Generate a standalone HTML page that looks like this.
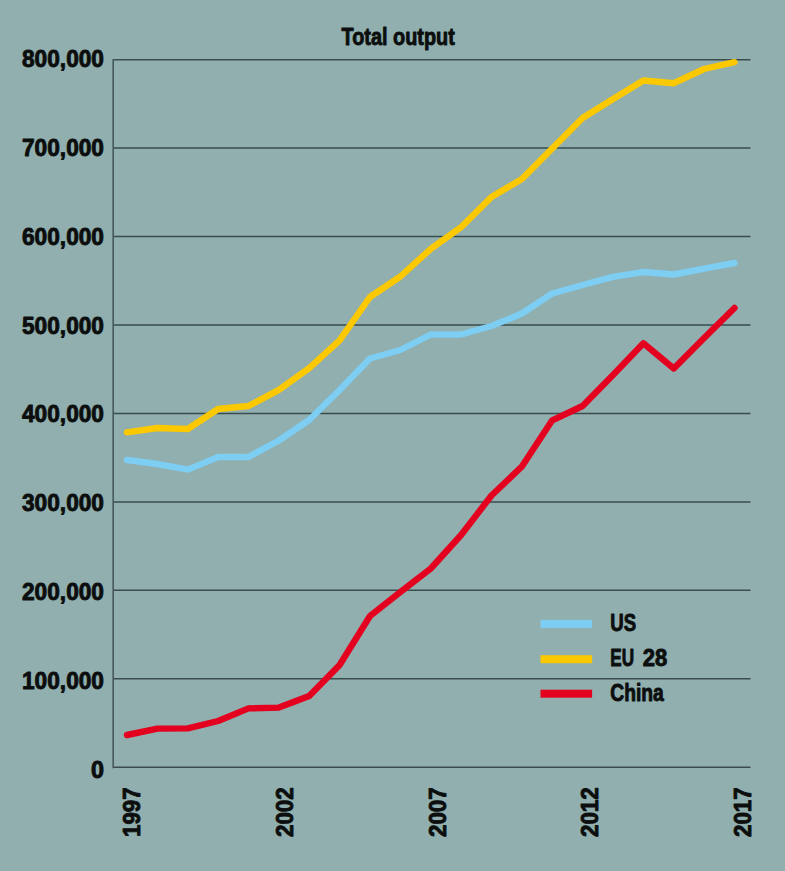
<!DOCTYPE html>
<html><head><meta charset="utf-8"><style>
html,body{margin:0;padding:0;background:#90afae;}
svg{display:block;}
text{font-family:"Liberation Sans",sans-serif;font-weight:bold;fill:#0c0e0e;stroke:#0c0e0e;stroke-width:0.9px;stroke-linejoin:round;}
</style></head><body>
<svg width="785" height="871" viewBox="0 0 785 871">
<rect width="785" height="871" fill="#90afae"/>
<line x1="113" y1="59.7" x2="750.5" y2="59.7" stroke="#3a4c4c" stroke-width="1.5"/>
<line x1="113" y1="148.1" x2="750.5" y2="148.1" stroke="#3a4c4c" stroke-width="1.5"/>
<line x1="113" y1="236.6" x2="750.5" y2="236.6" stroke="#3a4c4c" stroke-width="1.5"/>
<line x1="113" y1="325.0" x2="750.5" y2="325.0" stroke="#3a4c4c" stroke-width="1.5"/>
<line x1="113" y1="413.5" x2="750.5" y2="413.5" stroke="#3a4c4c" stroke-width="1.5"/>
<line x1="113" y1="501.9" x2="750.5" y2="501.9" stroke="#3a4c4c" stroke-width="1.5"/>
<line x1="113" y1="590.3" x2="750.5" y2="590.3" stroke="#3a4c4c" stroke-width="1.5"/>
<line x1="113" y1="678.8" x2="750.5" y2="678.8" stroke="#3a4c4c" stroke-width="1.5"/>
<line x1="113" y1="767.2" x2="750.5" y2="767.2" stroke="#3a4c4c" stroke-width="1.5"/>
<line x1="113.2" y1="59" x2="113.2" y2="768.3" stroke="#46585a" stroke-width="1.6"/>
<text x="104" y="67.0" text-anchor="end" font-size="23.4" textLength="82" lengthAdjust="spacingAndGlyphs">800,000</text>
<text x="104" y="155.9" text-anchor="end" font-size="23.4" textLength="82" lengthAdjust="spacingAndGlyphs">700,000</text>
<text x="104" y="244.7" text-anchor="end" font-size="23.4" textLength="82" lengthAdjust="spacingAndGlyphs">600,000</text>
<text x="104" y="333.6" text-anchor="end" font-size="23.4" textLength="82" lengthAdjust="spacingAndGlyphs">500,000</text>
<text x="104" y="422.4" text-anchor="end" font-size="23.4" textLength="82" lengthAdjust="spacingAndGlyphs">400,000</text>
<text x="104" y="511.3" text-anchor="end" font-size="23.4" textLength="82" lengthAdjust="spacingAndGlyphs">300,000</text>
<text x="104" y="600.2" text-anchor="end" font-size="23.4" textLength="82" lengthAdjust="spacingAndGlyphs">200,000</text>
<text x="104" y="689.0" text-anchor="end" font-size="23.4" textLength="82" lengthAdjust="spacingAndGlyphs">100,000</text>
<text x="104" y="777.9" text-anchor="end" font-size="23.4">0</text>
<text x="341.6" y="45" font-size="24.3" textLength="113.2" lengthAdjust="spacingAndGlyphs">Total output</text>
<text transform="translate(140.1,837.0) rotate(-90)" font-size="24.2" textLength="49.6" lengthAdjust="spacingAndGlyphs">1997</text>
<text transform="translate(292.8,837.0) rotate(-90)" font-size="24.2" textLength="49.6" lengthAdjust="spacingAndGlyphs">2002</text>
<text transform="translate(445.5,837.0) rotate(-90)" font-size="24.2" textLength="49.6" lengthAdjust="spacingAndGlyphs">2007</text>
<text transform="translate(598.2,837.0) rotate(-90)" font-size="24.2" textLength="49.6" lengthAdjust="spacingAndGlyphs">2012</text>
<text transform="translate(750.9,837.0) rotate(-90)" font-size="24.2" textLength="49.6" lengthAdjust="spacingAndGlyphs">2017</text>
<polyline points="127.0,460.0 157.4,464.0 187.8,469.6 218.1,457.0 248.5,457.0 278.9,440.5 309.2,420.0 339.6,389.9 370.0,358.5 400.4,350.0 430.8,334.5 461.1,334.5 491.5,326.0 521.9,313.5 552.2,293.5 582.6,285.0 613.0,276.8 643.4,272.0 673.8,274.5 704.1,268.6 734.5,263.0" fill="none" stroke="#7ecdf3" stroke-width="6.4" stroke-linejoin="round" stroke-linecap="round"/>
<polyline points="127.0,432.4 157.4,428.0 187.8,429.0 218.1,409.0 248.5,406.0 278.9,389.9 309.2,368.2 339.6,340.4 370.0,297.0 400.4,276.5 430.8,248.9 461.1,227.2 491.5,197.0 521.9,178.9 552.2,148.5 582.6,118.0 613.0,99.0 643.4,80.5 673.8,83.2 704.1,69.0 734.5,62.2" fill="none" stroke="#fcc800" stroke-width="6.4" stroke-linejoin="round" stroke-linecap="round"/>
<polyline points="127.0,735.0 157.4,728.6 187.8,728.4 218.1,721.0 248.5,708.4 278.9,707.6 309.2,696.0 339.6,665.0 370.0,616.0 400.4,592.0 430.8,568.5 461.1,535.0 491.5,495.5 521.9,466.5 552.2,420.3 582.6,406.0 613.0,375.0 643.4,343.3 673.8,368.5 704.1,338.0 734.5,308.0" fill="none" stroke="#e4001f" stroke-width="6.4" stroke-linejoin="round" stroke-linecap="round"/>
<rect x="540.5" y="619.9" width="51.6" height="8" fill="#7ecdf3"/>
<text x="610.3" y="630.9" font-size="23.4" textLength="25.8" lengthAdjust="spacingAndGlyphs">US</text>
<rect x="540.5" y="655.2" width="51.6" height="8" fill="#fcc800"/>
<text x="610.3" y="666.2" font-size="23.4" textLength="23.8" lengthAdjust="spacingAndGlyphs">EU</text>
<rect x="540.5" y="689.7" width="51.6" height="8" fill="#e4001f"/>
<text x="610.3" y="700.7" font-size="23.4" textLength="53.5" lengthAdjust="spacingAndGlyphs">China</text>
<text x="642.7" y="666.2" font-size="23.4" textLength="24.5" lengthAdjust="spacingAndGlyphs">28</text>
</svg>
</body></html>
